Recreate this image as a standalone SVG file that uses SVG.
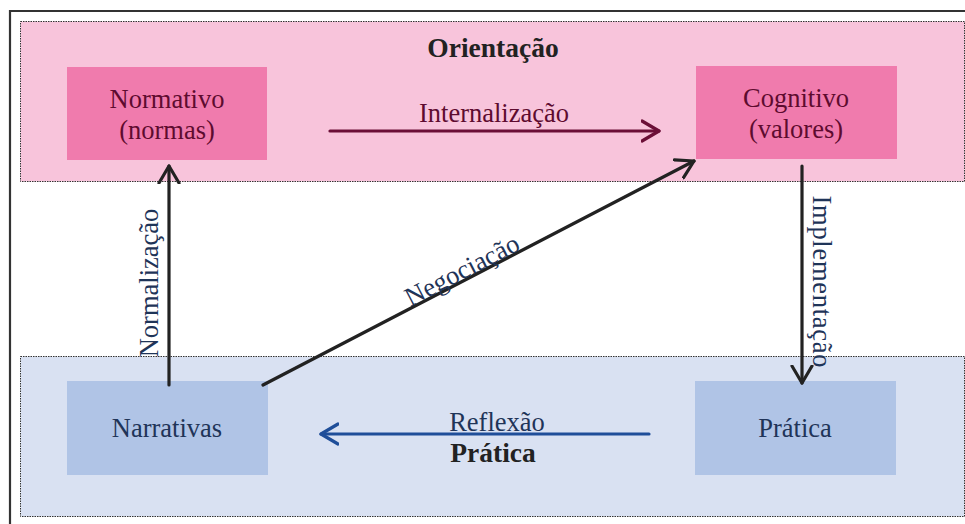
<svg xmlns="http://www.w3.org/2000/svg" width="965" height="524" viewBox="0 0 965 524">
<defs>
<style>
.band{stroke:#333;stroke-width:1;stroke-dasharray:1.5 1}
text{font-family:'Liberation Serif','Times New Roman',serif;font-size:26.5px;text-anchor:middle}
.b{font-weight:bold;font-size:27.5px}
.pk{fill:#5E0B2F}
.nv{fill:#1F3458}
.dk{fill:#222}
.ln{fill:none;stroke-width:3.2;stroke-linecap:round;stroke-linejoin:round}
</style>
<marker id="hk" viewBox="0 0 20 24" refX="18" refY="12" markerWidth="20" markerHeight="24" markerUnits="userSpaceOnUse" orient="auto">
<path d="M1,2 L18,12 L1,22" fill="none" stroke="#222" stroke-width="3.2" stroke-linecap="round" stroke-linejoin="round"/>
</marker>
<marker id="hm" viewBox="0 0 20 24" refX="18" refY="12" markerWidth="20" markerHeight="24" markerUnits="userSpaceOnUse" orient="auto">
<path d="M1,2 L18,12 L1,22" fill="none" stroke="#6B0F37" stroke-width="3.2" stroke-linecap="round" stroke-linejoin="round"/>
</marker>
<marker id="hb" viewBox="0 0 20 24" refX="18" refY="12" markerWidth="20" markerHeight="24" markerUnits="userSpaceOnUse" orient="auto">
<path d="M1,2 L18,12 L1,22" fill="none" stroke="#1F4E99" stroke-width="3.2" stroke-linecap="round" stroke-linejoin="round"/>
</marker>
</defs>
<rect width="965" height="524" fill="#fff"/>
<path d="M10,524 V11 H965" fill="none" stroke="#333" stroke-width="2.2"/>

<g id="orientacao">
<rect class="band" x="20.5" y="21.5" width="944" height="160" fill="#F8C4DB"/>
<text class="b dk" x="493" y="57">Orientação</text>
</g>
<g id="pratica-band">
<rect class="band" x="20.5" y="356.5" width="944" height="160" fill="#D9E1F2"/>
<text class="b dk" x="493" y="462">Prática</text>
</g>

<g id="normativo">
<rect x="67" y="67" width="200" height="93" fill="#F07BAD"/>
<text class="pk" x="167" y="108">Normativo</text>
<text class="pk" x="167" y="139">(normas)</text>
</g>
<g id="cognitivo">
<rect x="696" y="66" width="201" height="93" fill="#F07BAD"/>
<text class="pk" x="796" y="107">Cognitivo</text>
<text class="pk" x="796" y="138">(valores)</text>
</g>
<g id="narrativas">
<rect x="67" y="381" width="201" height="94" fill="#B0C4E6"/>
<text class="nv" x="167" y="437">Narrativas</text>
</g>
<g id="pratica">
<rect x="695" y="381" width="201" height="94" fill="#B0C4E6"/>
<text class="nv" x="795" y="437">Prática</text>
</g>

<g id="connectors">
<line class="ln" x1="330" y1="131" x2="659" y2="131" stroke="#6B0F37" marker-end="url(#hm)"/>
<text class="pk" x="494" y="122">Internalização</text>

<line class="ln" x1="169" y1="385" x2="169" y2="166" stroke="#222" marker-end="url(#hk)"/>
<text class="nv" transform="translate(158,283) rotate(-90)">Normalização</text>

<line class="ln" x1="802" y1="166" x2="802" y2="383" stroke="#222" marker-end="url(#hk)"/>
<text class="nv" transform="translate(813,281.5) rotate(90)" textLength="172" lengthAdjust="spacing">Implementação</text>

<line class="ln" x1="263" y1="385" x2="694" y2="161" stroke="#222" marker-end="url(#hk)"/>
<text class="nv" transform="translate(466,278) rotate(-27.4)">Negociação</text>

<line class="ln" x1="649" y1="434" x2="321" y2="434" stroke="#1F4E99" marker-end="url(#hb)"/>
<text class="nv" x="497" y="431">Reflexão</text>
</g>
</svg>
